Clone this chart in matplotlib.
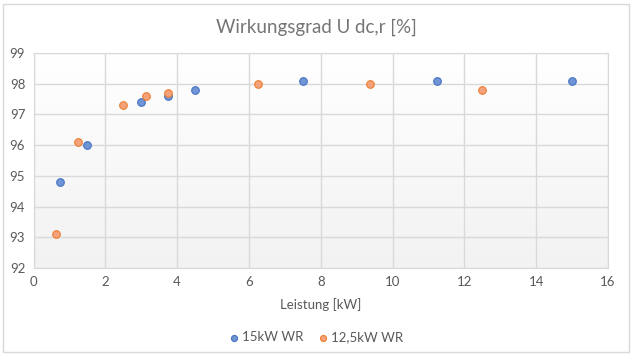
import numpy as np
import matplotlib
matplotlib.use("Agg")
from matplotlib import pyplot as plt
from matplotlib.patches import Rectangle

# data
x_15kw = [0.75, 1.5, 3.0, 3.75, 4.5, 7.5, 11.25, 15.0]
y_15kw = [94.8, 96.0, 97.4, 97.6, 97.8, 98.1, 98.1, 98.1]
x_125kw = [0.625, 1.25, 2.5, 3.125, 3.75, 6.25, 9.375, 12.5]
y_125kw = [93.1, 96.1, 97.3, 97.6, 97.7, 98.0, 98.0, 97.8]

plt.rcParams['font.family'] = ['Lato', 'DejaVu Sans']

fig = plt.figure(figsize=(6.33, 3.6), dpi=100)
# chart border
fig.patches.append(Rectangle((3 / 633, 1 - 352 / 360), 626 / 633, 348 / 360,
                             transform=fig.transFigure, fill=False,
                             edgecolor='#d9d9d9', linewidth=1))

ax = fig.add_axes([33.5 / 633, 1 - 268 / 360, 574.5 / 633, 215 / 360])

# gradient background of the plot area
grad = np.linspace(0, 1, 256).reshape(-1, 1)
ax.imshow(grad, extent=[0, 1, 0, 1], transform=ax.transAxes, aspect='auto',
          cmap=matplotlib.colors.LinearSegmentedColormap.from_list(
              'g', ['#f2f2f2', '#ffffff']), origin='lower', zorder=0)

ax.scatter(x_15kw, y_15kw, s=30, color='#7094d4', edgecolor='#4472c4',
           linewidth=0.8, zorder=3, label='15kW WR')
ax.scatter(x_125kw, y_125kw, s=30, color='#f4a27a', edgecolor='#ed7d31',
           linewidth=0.8, zorder=3, label='12,5kW WR')

ax.set_xlim(0, 16)
ax.set_ylim(92, 99)
ax.set_xticks(range(0, 17, 2))
ax.set_yticks(range(92, 100))
ax.grid(True, color='#d9d9d9', linewidth=1)
ax.set_axisbelow(True)
for s in ax.spines.values():
    s.set_color('#d9d9d9')
ax.tick_params(length=0, labelsize=9.5, labelcolor='#595959', pad=6)

ax.set_xlabel('Leistung [kW]', fontsize=9.5, color='#595959', labelpad=7)
fig.text(0.5, 1 - 27 / 360, 'Wirkungsgrad U dc,r [%]', ha='center', va='center',
         fontsize=13.5, color='#757575')

fig.legend(loc='center', bbox_to_anchor=(0.5, 1 - 337 / 360), ncol=2,
           frameon=False, fontsize=9.5, labelcolor='#595959',
           handlelength=0.6, handletextpad=0.3, columnspacing=1.2,
           markerscale=0.8)

fig.savefig('out.png', dpi=100)
